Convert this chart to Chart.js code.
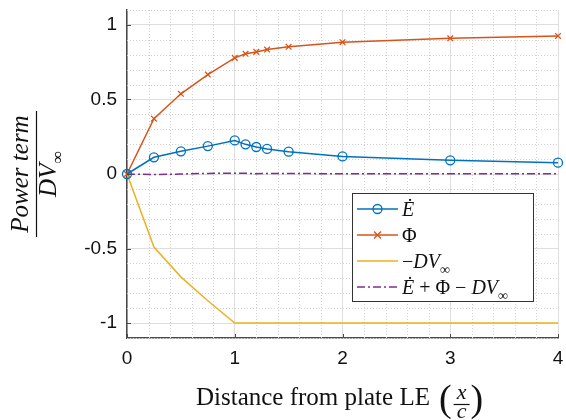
<!DOCTYPE html>
<html>
<head>
<meta charset="utf-8">
<script src="https://cdn.jsdelivr.net/npm/chart.js@4.4.1/dist/chart.umd.min.js"></script>
<style>
  html, body { margin: 0; padding: 0; background: #fff; }
  canvas { display: block; }
</style>
</head>
<body>
<canvas id="chart" width="566" height="420"></canvas>
<script>
// values
const xVals  = [0, 0.25, 0.5, 0.75, 1, 1.1, 1.2, 1.3, 1.5, 2, 3, 4];
const eDot   = [0, 0.112, 0.152, 0.187, 0.225, 0.199, 0.181, 0.168, 0.150, 0.118, 0.092, 0.076];
const phi    = [0, 0.371, 0.538, 0.667, 0.779, 0.806, 0.819, 0.835, 0.853, 0.884, 0.910, 0.926];
const negDV  = [0, -0.49, -0.69, -0.85, -1, -1, -1, -1, -1, -1, -1, -1];
const total  = [0, -0.004, 0, 0.004, 0.005, 0.005, 0.002, 0.003, 0.003, 0.002, 0.002, 0.002];

const xTicks = [0, 1, 2, 3, 4];
const yTicks = [-1, -0.5, 0, 0.5, 1];

const COLORS = ['#0072BD', '#D95319', '#EDB120', '#7E2F8E'];
const SERIF = '"Liberation Serif", "DejaVu Serif", serif';
const SANS = '"Liberation Sans", Arial, sans-serif';

// legend entries, each label split into math pieces
const legendLabels = [
    [{ t: 'Ė', it: true }],
    [{ t: 'Φ' }],
    [{ t: '−' }, { t: 'DV', it: true }, { t: '∞', sub: true }],
    [{ t: 'Ė', it: true }, { t: ' + Φ − ' }, { t: 'DV', it: true }, { t: '∞', sub: true }]
];

function toPoints(ys) {
    return xVals.map((x, i) => ({ x: x, y: ys[i] }));
}

// draws a run of text pieces (italic / subscript) and returns its width
function mathText(ctx, parts, x, y, size, measureOnly) {
    let cx = x;
    parts.forEach(p => {
        const s = p.sub ? size * 0.7 : size;
        ctx.font = (p.it ? 'italic ' : '') + s + 'px ' + SERIF;
        if (!measureOnly) ctx.fillText(p.t, cx, y + (p.sub ? size * 0.28 : 0));
        cx += ctx.measureText(p.t).width;
    });
    return cx - x;
}

function drawMarker(ctx, style, x, y, color) {
    ctx.save();
    ctx.strokeStyle = color;
    ctx.lineWidth = 1.3;
    ctx.setLineDash([]);
    ctx.beginPath();
    if (style === 'circle') {
        ctx.arc(x, y, 4.5, 0, Math.PI * 2);
    } else if (style === 'crossRot') {
        ctx.moveTo(x - 3.5, y - 3.5); ctx.lineTo(x + 3.5, y + 3.5);
        ctx.moveTo(x + 3.5, y - 3.5); ctx.lineTo(x - 3.5, y + 3.5);
    }
    ctx.stroke();
    ctx.restore();
}

const decor = {
    id: 'decor',
    beforeDatasetsDraw(chart) {
        const { ctx, chartArea: a, scales: { x, y } } = chart;
        ctx.save();
        ctx.strokeStyle = '#d2d2d2';
        ctx.lineWidth = 1;
        ctx.setLineDash([1, 2]);
        ctx.beginPath();
        for (let i = 1; i < 20; i++) {
            if (i % 5 === 0) continue;
            const px = Math.round(x.getPixelForValue(i / 5)) + 0.5;
            ctx.moveTo(px, a.top); ctx.lineTo(px, a.bottom);
        }
        for (let i = -11; i <= 11; i++) {
            if (i % 5 === 0) continue;
            const py = Math.round(y.getPixelForValue(i / 10)) + 0.5;
            ctx.moveTo(a.left, py); ctx.lineTo(a.right, py);
        }
        ctx.stroke();
        ctx.restore();
    },
    afterDatasetsDraw(chart) {
        const { ctx, chartArea: a, scales: { x, y } } = chart;
        ctx.save();
        // inward tick marks
        ctx.strokeStyle = '#4a4a4a';
        ctx.lineWidth = 1;
        ctx.beginPath();
        xTicks.forEach(v => {
            const px = Math.round(x.getPixelForValue(v)) + 0.5;
            ctx.moveTo(px, a.bottom); ctx.lineTo(px, a.bottom - 4);
        });
        yTicks.forEach(v => {
            const py = Math.round(y.getPixelForValue(v)) + 0.5;
            ctx.moveTo(a.left, py); ctx.lineTo(a.left + 4, py);
        });
        ctx.stroke();

        // legend box
        const bx = 352.5, by = 193.5, bw = 181, bh = 108;
        ctx.fillStyle = '#fff';
        ctx.fillRect(bx, by, bw, bh);
        ctx.strokeStyle = '#333';
        ctx.lineWidth = 1;
        ctx.strokeRect(bx, by, bw, bh);
        const rows = [209, 235, 261, 287];
        chart.data.datasets.forEach((ds, i) => {
            const ry = rows[i];
            ctx.strokeStyle = ds.borderColor;
            ctx.lineWidth = 1.5;
            ctx.setLineDash(ds.borderDash || []);
            ctx.beginPath();
            ctx.moveTo(357, ry); ctx.lineTo(398, ry);
            ctx.stroke();
            ctx.setLineDash([]);
            if (ds.pointRadius > 0) drawMarker(ctx, ds.pointStyle, 377.5, ry, ds.borderColor);
            ctx.fillStyle = '#111';
            ctx.textBaseline = 'alphabetic';
            ctx.textAlign = 'left';
            mathText(ctx, legendLabels[i], 402, ry + 7, 20);
        });
        ctx.restore();
    },
    afterDraw(chart) {
        const { ctx, chartArea: a } = chart;
        ctx.save();
        ctx.fillStyle = '#111';
        ctx.strokeStyle = '#111';
        ctx.textBaseline = 'alphabetic';
        ctx.textAlign = 'left';

        // y title: Power term / DV_inf, rotated
        const cy = (a.top + a.bottom) / 2;
        ctx.translate(36, cy);
        ctx.rotate(-Math.PI / 2);
        const num = [{ t: 'Power term', it: true }];
        const den = [{ t: 'DV', it: true }, { t: '∞', sub: true }];
        const wn = mathText(ctx, num, 0, 0, 25, true);
        mathText(ctx, num, -wn / 2, -8, 25);
        const wd = mathText(ctx, den, 0, 0, 25, true);
        mathText(ctx, den, -wd / 2, 20, 25);
        ctx.lineWidth = 1.2;
        ctx.beginPath();
        ctx.moveTo(-63, 0.5); ctx.lineTo(63, 0.5);
        ctx.stroke();
        ctx.setTransform(1, 0, 0, 1, 0, 0);

        // x title: Distance from plate LE (x/c)
        ctx.font = '25px ' + SERIF;
        const label = 'Distance from plate LE';
        const lx = 196;
        ctx.fillText(label, lx, 405);
        const px = lx + ctx.measureText(label).width + 9;
        ctx.font = '38px ' + SERIF;
        ctx.fillText('(', px, 411);
        const fx = px + ctx.measureText('(').width + 1;
        ctx.font = 'italic 22px ' + SERIF;
        const wx = ctx.measureText('x').width;
        ctx.fillText('x', fx + 9 - wx / 2, 399);
        const wc = ctx.measureText('c').width;
        ctx.fillText('c', fx + 9 - wc / 2, 418);
        ctx.lineWidth = 1.2;
        ctx.beginPath();
        ctx.moveTo(fx + 1, 404.5); ctx.lineTo(fx + 17, 404.5);
        ctx.stroke();
        ctx.font = '38px ' + SERIF;
        ctx.fillText(')', fx + 18, 411);
        ctx.restore();
    }
};

const tickFont = { family: SANS, size: 19 };

new Chart(document.getElementById('chart'), {
    type: 'line',
    data: {
        datasets: [{
            label: 'E dot',
            data: toPoints(eDot),
            borderColor: COLORS[0],
            borderWidth: 1.5,
            pointStyle: 'circle',
            pointRadius: 4.5,
            pointBorderWidth: 1.3,
            pointBackgroundColor: 'rgba(0,0,0,0)',
            pointBorderColor: COLORS[0],
            clip: false
        }, {
            label: 'Phi',
            data: toPoints(phi),
            borderColor: COLORS[1],
            borderWidth: 1.5,
            pointStyle: 'crossRot',
            pointRadius: 4,
            pointBorderWidth: 1.3,
            pointBorderColor: COLORS[1],
            clip: false
        }, {
            label: '-DV',
            data: toPoints(negDV),
            borderColor: COLORS[2],
            borderWidth: 1.5,
            pointRadius: 0,
            clip: false
        }, {
            label: 'sum',
            data: toPoints(total),
            borderColor: COLORS[3],
            borderWidth: 1.5,
            borderDash: [8, 3, 2, 3],
            pointRadius: 0,
            clip: false
        }]
    },
    options: {
        responsive: false,
        animation: false,
        devicePixelRatio: 1,
        layout: { padding: { top: 10, right: 8, left: 0, bottom: 0 } },
        elements: { line: { tension: 0 } },
        plugins: {
            legend: { display: false },
            tooltip: { enabled: false }
        },
        scales: {
            x: {
                type: 'linear',
                min: 0,
                max: 4,
                afterBuildTicks: s => { s.ticks = xTicks.map(v => ({ value: v })); },
                afterFit: s => { s.height = 82; s.paddingLeft = 0; s.paddingRight = 0; },
                ticks: { font: tickFont, color: '#111', padding: 9, maxRotation: 0, autoSkip: false, callback: v => String(v) },
                grid: { color: '#dedede', lineWidth: 1, drawTicks: false },
                border: { color: '#4a4a4a', width: 1.5 }
            },
            y: {
                type: 'linear',
                min: -1.1,
                max: 1.1,
                afterBuildTicks: s => { s.ticks = yTicks.map(v => ({ value: v })); },
                afterFit: s => { s.width = 127; s.paddingTop = 0; s.paddingBottom = 0; },
                ticks: { font: tickFont, color: '#111', padding: 10, autoSkip: false, callback: v => String(v) },
                grid: { color: '#dedede', lineWidth: 1, drawTicks: false },
                border: { color: '#4a4a4a', width: 1.5 }
            }
        }
    },
    plugins: [decor]
});
</script>
</body>
</html>
